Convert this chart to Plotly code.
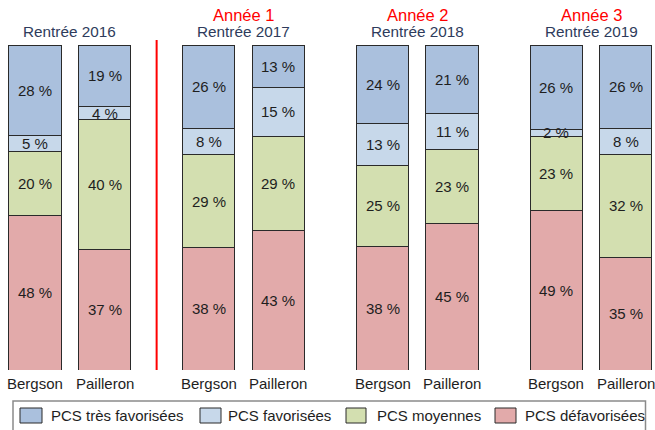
import plotly.graph_objects as go

# ---- data ----
periods = ["Rentrée 2016", "Rentrée 2017", "Rentrée 2018", "Rentrée 2019"]
years = ["", "Année 1", "Année 2", "Année 3"]
schools = ["Bergson", "Pailleron"]
categories = ["PCS défavorisées", "PCS moyennes", "PCS favorisées", "PCS très favorisées"]
defavorisees = [48, 37, 38, 43, 38, 45, 49, 35]
moyennes = [20, 40, 29, 29, 25, 23, 23, 32]
favorisees = [5, 4, 8, 15, 13, 11, 2, 8]
tres_favorisees = [28, 19, 26, 13, 24, 21, 26, 26]

series = [defavorisees, moyennes, favorisees, tres_favorisees]
colors = ["#E2AAAA", "#D3DFB0", "#C7D8EA", "#AAC0DD"]

# ---- layout constants ----
W, H = 655, 430
MT, MB = 45, 60
GROUP_STEP = 2.5
BAR_W = 0.75
FONT = "Liberation Sans, Arial, sans-serif"
TXT = "#1e1e1e"
HEAD = "#2E3B5C"

xpos = [g * GROUP_STEP + b for g in range(len(periods)) for b in range(len(schools))]
totals = [sum(s[i] for s in series) for i in range(len(xpos))]
heights = [[s[i] / totals[i] * 100 for i in range(len(xpos))] for s in series]

fig = go.Figure()
for cat, h, vals, col in zip(categories, heights, series, colors):
    fig.add_trace(go.Bar(
        x=xpos, y=h, name=cat, width=BAR_W,
        marker=dict(color=col, line=dict(color="#2a2a2a", width=1)),
        showlegend=False, hoverinfo="skip",
    ))

annotations = []
# value labels
for i, x in enumerate(xpos):
    base = 0
    for h, vals in zip(heights, series):
        annotations.append(dict(
            x=x, y=base + h[i] / 2, xref="x", yref="y", text=f"{vals[i]} %",
            showarrow=False, font=dict(family=FONT, size=15, color=TXT),
            xanchor="center", yanchor="middle"))
        base += h[i]

# school labels
for i, x in enumerate(xpos):
    annotations.append(dict(
        x=x, y=0, xref="x", yref="y", text=schools[i % len(schools)],
        showarrow=False, font=dict(family=FONT, size=15, color=TXT),
        xanchor="center", yanchor="middle", yshift=-13))

# headers
def py2paper(py):
    return (H - MB - py) / (H - MT - MB)

for g, (per, yr) in enumerate(zip(periods, years)):
    cx = g * GROUP_STEP + (len(schools) - 1) / 2
    annotations.append(dict(
        x=cx, y=py2paper(32), xref="x", yref="paper", text=per, showarrow=False,
        font=dict(family=FONT, size=15.3, color=HEAD), xanchor="center", yanchor="middle"))
    if yr:
        annotations.append(dict(
            x=cx, y=py2paper(15), xref="x", yref="paper", text=yr, showarrow=False,
            font=dict(family=FONT, size=16.5, color="#FF0000"), xanchor="center", yanchor="middle"))

shapes = []
# red separator between first and second period
sep_x = (xpos[1] + xpos[2]) / 2
shapes.append(dict(type="line", xref="x", yref="paper", x0=sep_x, x1=sep_x,
                   y0=0, y1=py2paper(40), line=dict(color="#FF0000", width=2)))

# manual legend
def px2paper(px):
    return px / W

shapes.append(dict(type="rect", xref="paper", yref="paper",
                   x0=px2paper(13), x1=px2paper(645.5), y0=py2paper(432), y1=py2paper(401),
                   line=dict(color="#8a8a8a", width=1.5), fillcolor="rgba(0,0,0,0)"))
leg_sw = [(495, 516), (346, 366), (200, 221), (20, 42)]
leg_tx = [524, 376, 227, 50]
for cat, col, (a, b), tx in zip(categories, colors, leg_sw, leg_tx):
    shapes.append(dict(type="rect", xref="paper", yref="paper",
                       x0=px2paper(a), x1=px2paper(b), y0=py2paper(423), y1=py2paper(408),
                       line=dict(color="#2a2a2a", width=1), fillcolor=col))
    annotations.append(dict(
        x=px2paper(tx), y=py2paper(415.5), xref="paper", yref="paper", text=cat,
        showarrow=False, font=dict(family=FONT, size=15, color=TXT),
        xanchor="left", yanchor="middle", borderpad=0))

x_left = xpos[0] - 35 / 69.5
x_right = x_left + W / 69.5

fig.update_layout(
    width=W, height=H, barmode="stack",
    margin=dict(l=0, r=0, t=MT, b=MB, pad=0),
    paper_bgcolor="white", plot_bgcolor="white",
    xaxis=dict(range=[x_left, x_right], showgrid=False, zeroline=False,
               showticklabels=False, ticks="", showline=False, fixedrange=True),
    yaxis=dict(range=[0, 100], showgrid=False, zeroline=False,
               showticklabels=False, ticks="", showline=False, fixedrange=True),
    annotations=annotations, shapes=shapes,
    font=dict(family=FONT),
)

fig.write_html("out.html", config={"displayModeBar": False})

# remove the default page margin so the figure sits at the window's top-left corner
with open("out.html", encoding="utf-8") as f:
    html = f.read()
html = html.replace("<body>", '<body style="margin:0;padding:0;overflow:hidden">', 1)
with open("out.html", "w", encoding="utf-8") as f:
    f.write(html)
